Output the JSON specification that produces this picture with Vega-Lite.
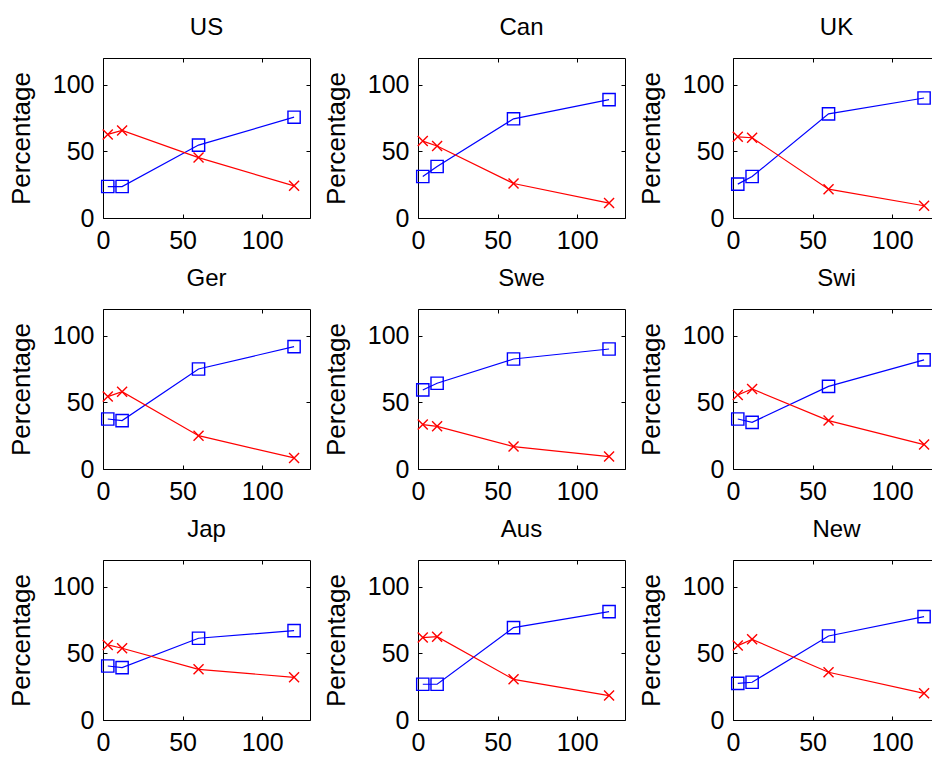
{
  "$schema": "https://vega.github.io/schema/vega-lite/v6.json",
  "padding": {"left": 7, "top": 15, "right": 0, "bottom": 0},
  "background": "white",
  "config": {
    "font": "Liberation Sans",
    "view": {"stroke": "black", "strokeWidth": 1},
    "axis": {"labelFontSize": 25, "titleFontSize": 26, "labelColor": "black", "titleColor": "black", "titleFontWeight": "normal", "domainColor": "black", "tickColor": "black", "grid": false, "labelFlush": false, "labelOverlap": false},
    "header": {"labelFontSize": 24, "labelColor": "black"}
  },
  "data": {"values": [
    {"country": "US", "t": 3, "series": "A", "value": 23.6},
    {"country": "US", "t": 12, "series": "A", "value": 23.6},
    {"country": "US", "t": 60, "series": "A", "value": 54.7},
    {"country": "US", "t": 120, "series": "A", "value": 75.6},
    {"country": "US", "t": 3, "series": "B", "value": 62.7},
    {"country": "US", "t": 12, "series": "B", "value": 65.7},
    {"country": "US", "t": 60, "series": "B", "value": 45.3},
    {"country": "US", "t": 120, "series": "B", "value": 24.1},
    {"country": "Can", "t": 3, "series": "A", "value": 31.1},
    {"country": "Can", "t": 12, "series": "A", "value": 38.6},
    {"country": "Can", "t": 60, "series": "A", "value": 74.4},
    {"country": "Can", "t": 120, "series": "A", "value": 88.8},
    {"country": "Can", "t": 3, "series": "B", "value": 57.7},
    {"country": "Can", "t": 12, "series": "B", "value": 54.0},
    {"country": "Can", "t": 60, "series": "B", "value": 25.9},
    {"country": "Can", "t": 120, "series": "B", "value": 11.2},
    {"country": "UK", "t": 3, "series": "A", "value": 25.4},
    {"country": "UK", "t": 12, "series": "A", "value": 31.1},
    {"country": "UK", "t": 60, "series": "A", "value": 78.1},
    {"country": "UK", "t": 120, "series": "A", "value": 90.0},
    {"country": "UK", "t": 3, "series": "B", "value": 60.9},
    {"country": "UK", "t": 12, "series": "B", "value": 60.2},
    {"country": "UK", "t": 60, "series": "B", "value": 21.6},
    {"country": "UK", "t": 120, "series": "B", "value": 9.2},
    {"country": "Ger", "t": 3, "series": "A", "value": 37.5},
    {"country": "Ger", "t": 12, "series": "A", "value": 36.3},
    {"country": "Ger", "t": 60, "series": "A", "value": 75.0},
    {"country": "Ger", "t": 120, "series": "A", "value": 91.8},
    {"country": "Ger", "t": 3, "series": "B", "value": 54.3},
    {"country": "Ger", "t": 12, "series": "B", "value": 58.0},
    {"country": "Ger", "t": 60, "series": "B", "value": 25.0},
    {"country": "Ger", "t": 120, "series": "B", "value": 8.3},
    {"country": "Swe", "t": 3, "series": "A", "value": 59.3},
    {"country": "Swe", "t": 12, "series": "A", "value": 64.3},
    {"country": "Swe", "t": 60, "series": "A", "value": 82.5},
    {"country": "Swe", "t": 120, "series": "A", "value": 90.0},
    {"country": "Swe", "t": 3, "series": "B", "value": 33.3},
    {"country": "Swe", "t": 12, "series": "B", "value": 32.0},
    {"country": "Swe", "t": 60, "series": "B", "value": 16.8},
    {"country": "Swe", "t": 120, "series": "B", "value": 9.3},
    {"country": "Swi", "t": 3, "series": "A", "value": 37.5},
    {"country": "Swi", "t": 12, "series": "A", "value": 35.0},
    {"country": "Swi", "t": 60, "series": "A", "value": 62.0},
    {"country": "Swi", "t": 120, "series": "A", "value": 81.8},
    {"country": "Swi", "t": 3, "series": "B", "value": 55.5},
    {"country": "Swi", "t": 12, "series": "B", "value": 60.0},
    {"country": "Swi", "t": 60, "series": "B", "value": 36.3},
    {"country": "Swi", "t": 120, "series": "B", "value": 18.3},
    {"country": "Jap", "t": 3, "series": "A", "value": 40.5},
    {"country": "Jap", "t": 12, "series": "A", "value": 39.3},
    {"country": "Jap", "t": 60, "series": "A", "value": 61.3},
    {"country": "Jap", "t": 120, "series": "A", "value": 67.0},
    {"country": "Jap", "t": 3, "series": "B", "value": 56.3},
    {"country": "Jap", "t": 12, "series": "B", "value": 53.8},
    {"country": "Jap", "t": 60, "series": "B", "value": 38.0},
    {"country": "Jap", "t": 120, "series": "B", "value": 32.0},
    {"country": "Aus", "t": 3, "series": "A", "value": 26.8},
    {"country": "Aus", "t": 12, "series": "A", "value": 26.8},
    {"country": "Aus", "t": 60, "series": "A", "value": 69.3},
    {"country": "Aus", "t": 120, "series": "A", "value": 81.3},
    {"country": "Aus", "t": 3, "series": "B", "value": 61.8},
    {"country": "Aus", "t": 12, "series": "B", "value": 62.5},
    {"country": "Aus", "t": 60, "series": "B", "value": 30.5},
    {"country": "Aus", "t": 120, "series": "B", "value": 18.3},
    {"country": "New", "t": 3, "series": "A", "value": 27.5},
    {"country": "New", "t": 12, "series": "A", "value": 28.3},
    {"country": "New", "t": 60, "series": "A", "value": 63.0},
    {"country": "New", "t": 120, "series": "A", "value": 77.5},
    {"country": "New", "t": 3, "series": "B", "value": 55.8},
    {"country": "New", "t": 12, "series": "B", "value": 60.5},
    {"country": "New", "t": 60, "series": "B", "value": 35.8},
    {"country": "New", "t": 120, "series": "B", "value": 20.0}
  ]},
  "facet": {"field": "country", "type": "nominal", "sort": ["US", "Can", "UK", "Ger", "Swe", "Swi", "Jap", "Aus", "New"], "header": {"title": null, "labelFontSize": 24, "labelPadding": 18}},
  "columns": 3,
  "spacing": {"row": 91, "column": 108},
  "bounds": "flush",
  "resolve": {"axis": {"x": "independent", "y": "independent"}},
  "spec": {
    "width": 207,
    "height": 160,
    "resolve": {"axis": {"x": "independent", "y": "independent"}},
    "layer": [
      {
        "mark": {"type": "line", "strokeWidth": 1.2},
        "encoding": {
          "x": {"field": "t", "type": "quantitative", "scale": {"domain": [0, 130], "nice": false}, "axis": {"orient": "bottom", "values": [0, 50, 100], "title": null, "ticks": false, "labelPadding": 10, "labelAngle": 0}},
          "y": {"field": "value", "type": "quantitative", "scale": {"domain": [0, 120], "nice": false}, "axis": {"orient": "left", "values": [0, 50, 100], "title": "Percentage", "ticks": false, "labelPadding": 9, "titlePadding": 18}},
          "color": {"field": "series", "type": "nominal", "scale": {"domain": ["A", "B"], "range": ["#0000ff", "#ff0000"]}, "legend": null}
        }
      },
      {
        "transform": [{"filter": "datum.series === 'A'"}],
        "mark": {"type": "point", "shape": "square", "filled": false, "size": 150, "strokeWidth": 1.4, "color": "#0000ff", "opacity": 1},
        "encoding": {
          "x": {"field": "t", "type": "quantitative", "axis": {"orient": "bottom", "values": [50, 100], "labels": false, "title": null, "domain": false, "tickSize": -4}},
          "y": {"field": "value", "type": "quantitative", "axis": {"orient": "left", "values": [50, 100], "labels": false, "title": null, "domain": false, "tickSize": -4}}
        }
      },
      {
        "transform": [{"filter": "datum.series === 'B'"}],
        "mark": {"type": "point", "shape": "M-1,-1L1,1M-1,1L1,-1", "filled": false, "size": 100, "strokeWidth": 1.4, "color": "#ff0000", "opacity": 1},
        "encoding": {
          "x": {"field": "t", "type": "quantitative", "axis": {"orient": "top", "values": [50, 100], "labels": false, "title": null, "domain": false, "tickSize": -4}},
          "y": {"field": "value", "type": "quantitative", "axis": {"orient": "right", "values": [50, 100], "labels": false, "title": null, "domain": false, "tickSize": -4}}
        }
      }
    ]
  }
}
